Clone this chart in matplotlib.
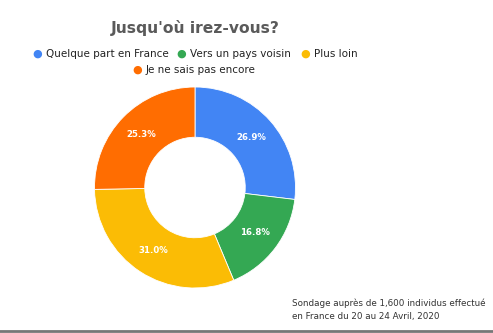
import matplotlib

matplotlib.use("Agg")
import matplotlib.pyplot as plt
import numpy as np
from matplotlib.lines import Line2D

labels = ["Quelque part en France", "Vers un pays voisin", "Plus loin", "Je ne sais pas encore"]
shares = [26.9, 16.8, 31.0, 25.3]
colors = ["#4285F4", "#34A853", "#FBBC05", "#FF6D01"]

W, H = 493, 333
fig = plt.figure(figsize=(W / 100, H / 100), dpi=100)
fig.patch.set_facecolor("white")

# donut centred around (195, 187) px with radius ~100 px
cx, cy, r = 195, 187.5, 100.5
ax = fig.add_axes([(cx - r) / W, 1 - (cy + r) / H, 2 * r / W, 2 * r / H])
ax.pie(
    shares,
    colors=colors,
    startangle=90,
    counterclock=False,
    radius=1.0,
    wedgeprops=dict(width=0.5, edgecolor="white", linewidth=0.6),
)
ax.set_aspect("equal")
ax.set_xlim(-1, 1)
ax.set_ylim(-1, 1)

angle = 90.0
for s in shares:
    mid = np.deg2rad(angle - s * 3.6 / 2)
    ax.text(0.75 * np.cos(mid), 0.75 * np.sin(mid), f"{s:.1f}%",
            ha="center", va="center", color="white", fontsize=6.2, fontweight="bold")
    angle -= s * 3.6

fig.text(195 / W, 1 - 28 / H, "Jusqu'où irez-vous?", ha="center", va="center",
         fontsize=11.2, fontweight="bold", color="#5a5a5a")

# legend laid out in two rows
legend_pos = [(37, 54), (181, 54), (305, 54), (137, 70)]
for (x, y), lab, col in zip(legend_pos, labels, colors):
    fig.text(x / W, 1 - y / H, "\u25CF", ha="center", va="center", color=col, fontsize=8)
    fig.text((x + 9) / W, 1 - y / H, lab, ha="left", va="center", color="#222222", fontsize=7.5)

fig.text(292 / W, 1 - 303 / H, "Sondage auprès de 1,600 individus effectué",
         ha="left", va="center", fontsize=6.3, color="#333333")
fig.text(292 / W, 1 - 316 / H, "en France du 20 au 24 Avril, 2020",
         ha="left", va="center", fontsize=6.3, color="#333333")

fig.add_artist(Line2D([0, 1], [1 - 331 / H, 1 - 331 / H], transform=fig.transFigure,
                      color="#777777", linewidth=2))

fig.savefig("out.png", dpi=100)
